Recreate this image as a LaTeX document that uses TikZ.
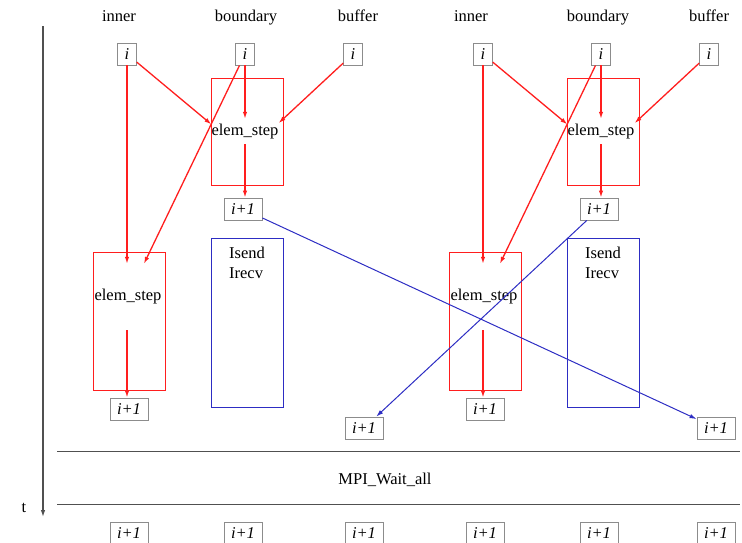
\documentclass[tikz,border=0pt]{standalone}
\usepackage{fontspec}
\setmainfont{Liberation Serif}
\usetikzlibrary{arrows.meta}

\definecolor{boxgray}{RGB}{140,140,140}
\definecolor{linegray}{RGB}{80,80,80}
\definecolor{stepred}{RGB}{255,30,30}
\definecolor{sendblue}{RGB}{45,45,195}

\tikzset{
	txt/.style={font=\fontsize{16.5}{20}\selectfont, inner sep=0pt},
	idx/.style={draw=boxgray, line width=0.9pt, inner xsep=7pt, inner ysep=0pt, minimum height=22pt, font=\fontsize{16.5}{20}\selectfont\itshape},
	stepframe/.style={draw=stepred, line width=1pt, inner sep=0pt},
	sendframe/.style={draw=sendblue, line width=1pt, inner sep=0pt},
	redarrow/.style={draw=stepred, line width=1.3pt, -{Latex[length=7pt,width=4.5pt]}},
	bluearrow/.style={draw=sendblue, line width=1pt, -{Latex[length=7pt,width=4.5pt]}},
	waitline/.style={draw=linegray, line width=1pt}
}

\begin{document}
\begin{tikzpicture}[x=1pt,y=-1pt]

	%Canvas of the picture, y runs downward
	\useasboundingbox (0,0) rectangle (742,542);
	
	%Shift between the two processes
	\pgfmathsetmacro{\s}{356}

	%Time axis
	\coordinate (t0) at (43,26);
	\coordinate (t1) at (43,517);
	\draw[linegray, line width=1.2pt, -{Latex[length=7pt,width=4.5pt]}] (t0) -- (t1);
	\node[txt] (tlab) at (24,508) {t};

	%Column headers
	\node[txt, anchor=base] (hin1) at (119,21) {inner};
	\node[txt, anchor=base] (hbd1) at (246,21) {boundary};
	\node[txt, anchor=base] (hbf1) at (358,21) {buffer};
	\node[txt, anchor=base] (hin2) at (471,21) {inner};
	\node[txt, anchor=base] (hbd2) at (598,21) {boundary};
	\node[txt, anchor=base] (hbf2) at (709,21) {buffer};

	%Values at step i
	\node[idx] (ia1) at (127,54) {i};
	\node[idx] (ib1) at (245,54) {i};
	\node[idx] (ic1) at (353,54) {i};
	\node[idx] (ia2) at (127+\s,54) {i};
	\node[idx] (ib2) at (245+\s,54) {i};
	\node[idx] (ic2) at (353+\s,54) {i};

	%Frames of the computation and communication
	\node[stepframe, minimum width=72pt, minimum height=107pt] (fb1) at (247,131.5) {};
	\node[stepframe, minimum width=72pt, minimum height=138pt] (fa1) at (129,321) {};
	\node[sendframe, minimum width=72pt, minimum height=169pt] (fs1) at (247,322.5) {};
	\node[stepframe, minimum width=72pt, minimum height=107pt] (fb2) at (247+\s,131.5) {};
	\node[stepframe, minimum width=72pt, minimum height=138pt] (fa2) at (129+\s,321) {};
	\node[sendframe, minimum width=72pt, minimum height=169pt] (fs2) at (247+\s,322.5) {};

	\node[txt, align=left, anchor=north] (isr1) at ([yshift=-9pt]fs1.north) {Isend\\Irecv};
	\node[txt, align=left, anchor=north] (isr2) at ([yshift=-9pt]fs2.north) {Isend\\Irecv};

	%elem_step on boundary and inner part
	\node[txt, minimum height=25pt] (eb1) at (245,131.5) {elem\_step};
	\node[txt, minimum height=66pt] (ea1) at (128,297) {elem\_step};
	\node[txt, minimum height=25pt] (eb2) at (245+\s,131.5) {elem\_step};
	\node[txt, minimum height=66pt] (ea2) at (128+\s,297) {elem\_step};

	%Values at step i+1
	\node[idx] (nb1) at (243,209) {i+1};
	\node[idx] (na1) at (129,409) {i+1};
	\node[idx] (nc1) at (364,428) {i+1};
	\node[idx] (nb2) at (243+\s,209) {i+1};
	\node[idx] (na2) at (129+\s,409) {i+1};
	\node[idx] (nc2) at (360+\s,428) {i+1};

	%Red dependencies, first process
	\draw[redarrow] (ia1.south) -- (ia1.south |- ea1.north);
	\draw[redarrow] (ia1) -- (eb1.168);
	\draw[redarrow] (ib1.south) -- (ib1.south |- eb1.north);
	\draw[redarrow] (ib1) -- (ea1);
	\draw[redarrow] (ic1) -- (eb1.14);
	\draw[redarrow] (eb1.south) -- (eb1.south |- nb1.north);
	\draw[redarrow] (ia1.south |- ea1.south) -- (ia1.south |- na1.north);

	%Red dependencies, second process
	\draw[redarrow] (ia2.south) -- (ia2.south |- ea2.north);
	\draw[redarrow] (ia2) -- (eb2.168);
	\draw[redarrow] (ib2.south) -- (ib2.south |- eb2.north);
	\draw[redarrow] (ib2) -- (ea2);
	\draw[redarrow] (ic2) -- (eb2.14);
	\draw[redarrow] (eb2.south) -- (eb2.south |- nb2.north);
	\draw[redarrow] (ia2.south |- ea2.south) -- (ia2.south |- na2.north);

	%Exchange of the boundary into the buffer of the other process
	\draw[bluearrow] (nb1) -- (nc2);
	\draw[bluearrow] (nb2) -- (nc1);

	%Waiting for all messages
	\coordinate (wl0) at (57,451);
	\coordinate (wl1) at (740,451);
	\coordinate (wl2) at (57,504);
	\coordinate (wl3) at (740,504);
	\draw[waitline] (wl0) -- (wl1);
	\draw[waitline] (wl2) -- (wl3);
	\node[txt] (wait) at (385,480) {MPI\_Wait\_all};

	%Values after the exchange
	\node[idx] (ra1) at (129,533) {i+1};
	\node[idx] (rb1) at (243,533) {i+1};
	\node[idx] (rc1) at (364,533) {i+1};
	\node[idx] (ra2) at (129+\s,533) {i+1};
	\node[idx] (rb2) at (243+\s,533) {i+1};
	\node[idx] (rc2) at (360+\s,533) {i+1};

\end{tikzpicture}
\end{document}
